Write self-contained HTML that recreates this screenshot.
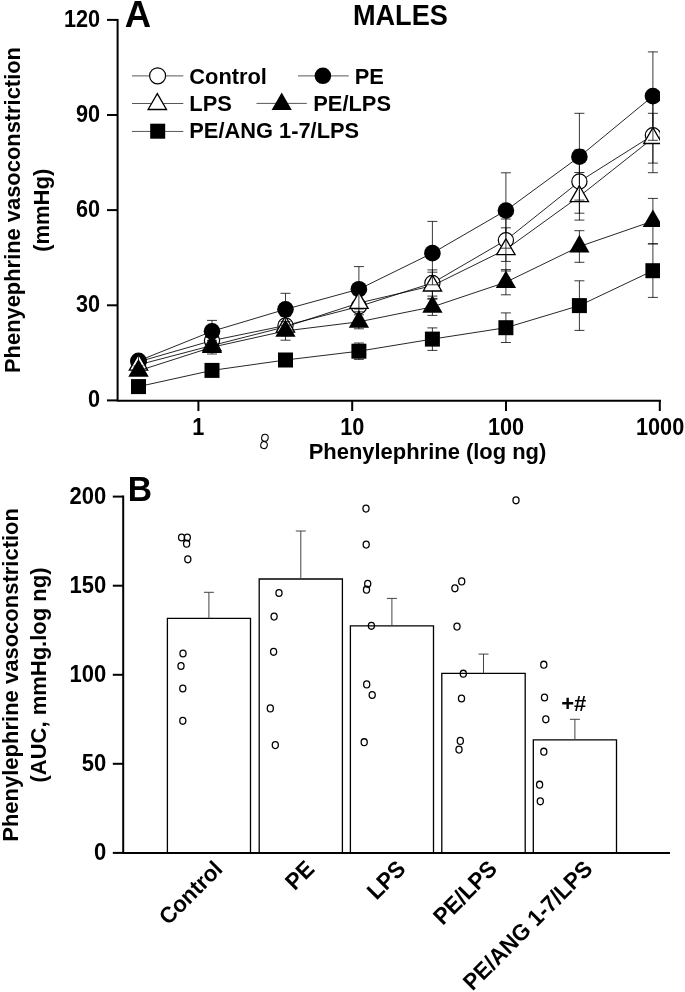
<!DOCTYPE html>
<html><head><meta charset="utf-8"><title>Figure</title>
<style>html,body{margin:0;padding:0;background:#fff}svg{display:block;will-change:transform}</style></head>
<body>
<svg width="685" height="992" viewBox="0 0 685 992">
<rect width="685" height="992" fill="#fff"/>
<defs><clipPath id="ca"><rect x="0" y="0" width="660.0" height="420"/></clipPath></defs>
<g clip-path="url(#ca)">
<polyline points="138.5,361.8 212.0,340.6 285.5,325.5 358.9,306.5 432.4,283.0 505.9,240.2 579.4,181.5 652.9,135.2" fill="none" stroke="#000" stroke-width="0.85"/>
<circle cx="138.5" cy="361.8" r="7.60" fill="#fff" stroke="#000" stroke-width="1.2"/>
<circle cx="212.0" cy="340.6" r="7.60" fill="#fff" stroke="#000" stroke-width="1.2"/>
<circle cx="285.5" cy="325.5" r="7.60" fill="#fff" stroke="#000" stroke-width="1.2"/>
<circle cx="358.9" cy="306.5" r="7.60" fill="#fff" stroke="#000" stroke-width="1.2"/>
<circle cx="432.4" cy="283.0" r="7.60" fill="#fff" stroke="#000" stroke-width="1.2"/>
<circle cx="505.9" cy="240.2" r="7.60" fill="#fff" stroke="#000" stroke-width="1.2"/>
<circle cx="579.4" cy="181.5" r="7.60" fill="#fff" stroke="#000" stroke-width="1.2"/>
<circle cx="652.9" cy="135.2" r="7.60" fill="#fff" stroke="#000" stroke-width="1.2"/>
<polyline points="138.5,360.9 212.0,331.3 285.5,309.3 358.9,289.2 432.4,253.1 505.9,210.5 579.4,156.7 652.9,96.1" fill="none" stroke="#000" stroke-width="0.85"/>
<circle cx="138.5" cy="360.9" r="8.3" fill="#000"/>
<circle cx="212.0" cy="331.3" r="8.3" fill="#000"/>
<circle cx="285.5" cy="309.3" r="8.3" fill="#000"/>
<circle cx="358.9" cy="289.2" r="8.3" fill="#000"/>
<circle cx="432.4" cy="253.1" r="8.3" fill="#000"/>
<circle cx="505.9" cy="210.5" r="8.3" fill="#000"/>
<circle cx="579.4" cy="156.7" r="8.3" fill="#000"/>
<circle cx="652.9" cy="96.1" r="8.3" fill="#000"/>
<polyline points="138.5,364.8 212.0,345.5 285.5,326.8 358.9,303.0 432.4,285.7 505.9,249.4 579.4,196.3 652.9,138.2" fill="none" stroke="#000" stroke-width="0.85"/>
<polygon points="138.5,354.2 129.3,370.1 147.7,370.1" fill="#fff" stroke="#000" stroke-width="1.3" stroke-linejoin="miter"/>
<polygon points="212.0,334.9 202.8,350.8 221.1,350.8" fill="#fff" stroke="#000" stroke-width="1.3" stroke-linejoin="miter"/>
<polygon points="285.5,316.2 276.3,332.1 294.6,332.1" fill="#fff" stroke="#000" stroke-width="1.3" stroke-linejoin="miter"/>
<polygon points="358.9,292.4 349.8,308.3 368.1,308.3" fill="#fff" stroke="#000" stroke-width="1.3" stroke-linejoin="miter"/>
<polygon points="432.4,275.1 423.3,291.0 441.6,291.0" fill="#fff" stroke="#000" stroke-width="1.3" stroke-linejoin="miter"/>
<polygon points="505.9,238.8 496.7,254.7 515.1,254.7" fill="#fff" stroke="#000" stroke-width="1.3" stroke-linejoin="miter"/>
<polygon points="579.4,185.7 570.2,201.6 588.5,201.6" fill="#fff" stroke="#000" stroke-width="1.3" stroke-linejoin="miter"/>
<polygon points="652.9,127.6 643.7,143.5 662.0,143.5" fill="#fff" stroke="#000" stroke-width="1.3" stroke-linejoin="miter"/>
<polyline points="138.5,370.8 212.0,347.2 285.5,330.9 358.9,321.8 432.4,306.9 505.9,282.2 579.4,246.5 652.9,221.1" fill="none" stroke="#000" stroke-width="0.85"/>
<polygon points="138.5,359.1 128.3,376.7 148.7,376.7" fill="#000"/>
<polygon points="212.0,335.5 201.8,353.1 222.1,353.1" fill="#000"/>
<polygon points="285.5,319.2 275.3,336.8 295.6,336.8" fill="#000"/>
<polygon points="358.9,310.1 348.8,327.7 369.1,327.7" fill="#000"/>
<polygon points="432.4,295.2 422.3,312.8 442.6,312.8" fill="#000"/>
<polygon points="505.9,270.5 495.8,288.1 516.1,288.1" fill="#000"/>
<polygon points="579.4,234.8 569.2,252.4 589.5,252.4" fill="#000"/>
<polygon points="652.9,209.4 642.7,227.0 663.0,227.0" fill="#000"/>
<polyline points="138.5,386.6 212.0,370.4 285.5,360.0 358.9,351.2 432.4,339.1 505.9,327.7 579.4,305.6 652.9,270.7" fill="none" stroke="#000" stroke-width="0.85"/>
<rect x="131.0" y="379.1" width="15.0" height="15.0" fill="#000"/>
<rect x="204.5" y="362.9" width="15.0" height="15.0" fill="#000"/>
<rect x="278.0" y="352.5" width="15.0" height="15.0" fill="#000"/>
<rect x="351.4" y="343.7" width="15.0" height="15.0" fill="#000"/>
<rect x="424.9" y="331.6" width="15.0" height="15.0" fill="#000"/>
<rect x="498.4" y="320.2" width="15.0" height="15.0" fill="#000"/>
<rect x="571.9" y="298.1" width="15.0" height="15.0" fill="#000"/>
<rect x="645.4" y="263.2" width="15.0" height="15.0" fill="#000"/>
<g stroke="#000" stroke-width="0.78" fill="none">


<line x1="285.5" y1="316.5" x2="285.5" y2="317.3"/><line x1="280.5" y1="316.5" x2="290.5" y2="316.5"/><line x1="285.5" y1="333.7" x2="285.5" y2="334.5"/><line x1="280.5" y1="334.5" x2="290.5" y2="334.5"/>

<line x1="432.4" y1="269.9" x2="432.4" y2="274.8"/><line x1="427.4" y1="269.9" x2="437.4" y2="269.9"/><line x1="432.4" y1="291.2" x2="432.4" y2="296.1"/><line x1="427.4" y1="296.1" x2="437.4" y2="296.1"/>
<line x1="505.9" y1="219.0" x2="505.9" y2="232.0"/><line x1="500.9" y1="219.0" x2="510.9" y2="219.0"/><line x1="505.9" y1="248.4" x2="505.9" y2="261.4"/><line x1="500.9" y1="261.4" x2="510.9" y2="261.4"/>
<line x1="579.4" y1="149.8" x2="579.4" y2="173.3"/><line x1="574.4" y1="149.8" x2="584.4" y2="149.8"/><line x1="579.4" y1="189.7" x2="579.4" y2="213.2"/><line x1="574.4" y1="213.2" x2="584.4" y2="213.2"/>
<line x1="652.9" y1="97.7" x2="652.9" y2="127.0"/><line x1="647.9" y1="97.7" x2="657.9" y2="97.7"/><line x1="652.9" y1="143.4" x2="652.9" y2="172.7"/><line x1="647.9" y1="172.7" x2="657.9" y2="172.7"/>
<line x1="138.5" y1="355.9" x2="138.5" y2="365.9"/><line x1="133.5" y1="355.9" x2="143.5" y2="355.9"/><line x1="133.5" y1="365.9" x2="143.5" y2="365.9"/>
<line x1="212.0" y1="320.4" x2="212.0" y2="342.2"/><line x1="207.0" y1="320.4" x2="217.0" y2="320.4"/><line x1="207.0" y1="342.2" x2="217.0" y2="342.2"/>
<line x1="285.5" y1="293.3" x2="285.5" y2="325.3"/><line x1="280.5" y1="293.3" x2="290.5" y2="293.3"/><line x1="280.5" y1="325.3" x2="290.5" y2="325.3"/>
<line x1="358.9" y1="266.6" x2="358.9" y2="311.8"/><line x1="353.9" y1="266.6" x2="363.9" y2="266.6"/><line x1="353.9" y1="311.8" x2="363.9" y2="311.8"/>
<line x1="432.4" y1="221.4" x2="432.4" y2="284.8"/><line x1="427.4" y1="221.4" x2="437.4" y2="221.4"/><line x1="427.4" y1="284.8" x2="437.4" y2="284.8"/>
<line x1="505.9" y1="172.8" x2="505.9" y2="248.2"/><line x1="500.9" y1="172.8" x2="510.9" y2="172.8"/><line x1="500.9" y1="248.2" x2="510.9" y2="248.2"/>
<line x1="579.4" y1="113.3" x2="579.4" y2="200.1"/><line x1="574.4" y1="113.3" x2="584.4" y2="113.3"/><line x1="574.4" y1="200.1" x2="584.4" y2="200.1"/>
<line x1="652.9" y1="51.9" x2="652.9" y2="140.3"/><line x1="647.9" y1="51.9" x2="657.9" y2="51.9"/><line x1="647.9" y1="140.3" x2="657.9" y2="140.3"/>

<line x1="212.0" y1="351.4" x2="212.0" y2="351.5"/><line x1="207.0" y1="351.5" x2="217.0" y2="351.5"/>
<line x1="285.5" y1="332.7" x2="285.5" y2="335.8"/><line x1="280.5" y1="335.8" x2="290.5" y2="335.8"/>
<line x1="358.9" y1="308.9" x2="358.9" y2="309.0"/><line x1="353.9" y1="309.0" x2="363.9" y2="309.0"/>
<line x1="432.4" y1="272.2" x2="432.4" y2="273.8"/><line x1="427.4" y1="272.2" x2="437.4" y2="272.2"/><line x1="432.4" y1="291.6" x2="432.4" y2="299.2"/><line x1="427.4" y1="299.2" x2="437.4" y2="299.2"/>
<line x1="505.9" y1="227.8" x2="505.9" y2="237.5"/><line x1="500.9" y1="227.8" x2="510.9" y2="227.8"/><line x1="505.9" y1="255.3" x2="505.9" y2="271.0"/><line x1="500.9" y1="271.0" x2="510.9" y2="271.0"/>
<line x1="579.4" y1="172.5" x2="579.4" y2="184.4"/><line x1="574.4" y1="172.5" x2="584.4" y2="172.5"/><line x1="579.4" y1="202.2" x2="579.4" y2="220.1"/><line x1="574.4" y1="220.1" x2="584.4" y2="220.1"/>
<line x1="652.9" y1="113.3" x2="652.9" y2="126.3"/><line x1="647.9" y1="113.3" x2="657.9" y2="113.3"/><line x1="652.9" y1="144.1" x2="652.9" y2="163.1"/><line x1="647.9" y1="163.1" x2="657.9" y2="163.1"/>
<line x1="138.5" y1="367.8" x2="138.5" y2="373.8"/><line x1="133.5" y1="367.8" x2="143.5" y2="367.8"/><line x1="133.5" y1="373.8" x2="143.5" y2="373.8"/>
<line x1="212.0" y1="340.4" x2="212.0" y2="354.0"/><line x1="207.0" y1="340.4" x2="217.0" y2="340.4"/><line x1="207.0" y1="354.0" x2="217.0" y2="354.0"/>
<line x1="285.5" y1="321.6" x2="285.5" y2="340.2"/><line x1="280.5" y1="321.6" x2="290.5" y2="321.6"/><line x1="280.5" y1="340.2" x2="290.5" y2="340.2"/>
<line x1="358.9" y1="314.8" x2="358.9" y2="328.8"/><line x1="353.9" y1="314.8" x2="363.9" y2="314.8"/><line x1="353.9" y1="328.8" x2="363.9" y2="328.8"/>
<line x1="432.4" y1="298.4" x2="432.4" y2="315.4"/><line x1="427.4" y1="298.4" x2="437.4" y2="298.4"/><line x1="427.4" y1="315.4" x2="437.4" y2="315.4"/>
<line x1="505.9" y1="269.6" x2="505.9" y2="294.8"/><line x1="500.9" y1="269.6" x2="510.9" y2="269.6"/><line x1="500.9" y1="294.8" x2="510.9" y2="294.8"/>
<line x1="579.4" y1="230.7" x2="579.4" y2="262.3"/><line x1="574.4" y1="230.7" x2="584.4" y2="230.7"/><line x1="574.4" y1="262.3" x2="584.4" y2="262.3"/>
<line x1="652.9" y1="198.4" x2="652.9" y2="243.8"/><line x1="647.9" y1="198.4" x2="657.9" y2="198.4"/><line x1="647.9" y1="243.8" x2="657.9" y2="243.8"/>
<line x1="138.5" y1="384.6" x2="138.5" y2="388.6"/><line x1="133.5" y1="384.6" x2="143.5" y2="384.6"/><line x1="133.5" y1="388.6" x2="143.5" y2="388.6"/>
<line x1="212.0" y1="367.4" x2="212.0" y2="373.4"/><line x1="207.0" y1="367.4" x2="217.0" y2="367.4"/><line x1="207.0" y1="373.4" x2="217.0" y2="373.4"/>
<line x1="285.5" y1="356.5" x2="285.5" y2="363.5"/><line x1="280.5" y1="356.5" x2="290.5" y2="356.5"/><line x1="280.5" y1="363.5" x2="290.5" y2="363.5"/>
<line x1="358.9" y1="343.0" x2="358.9" y2="359.4"/><line x1="353.9" y1="343.0" x2="363.9" y2="343.0"/><line x1="353.9" y1="359.4" x2="363.9" y2="359.4"/>
<line x1="432.4" y1="327.9" x2="432.4" y2="350.4"/><line x1="427.4" y1="327.9" x2="437.4" y2="327.9"/><line x1="427.4" y1="350.4" x2="437.4" y2="350.4"/>
<line x1="505.9" y1="312.9" x2="505.9" y2="342.5"/><line x1="500.9" y1="312.9" x2="510.9" y2="312.9"/><line x1="500.9" y1="342.5" x2="510.9" y2="342.5"/>
<line x1="579.4" y1="280.8" x2="579.4" y2="330.4"/><line x1="574.4" y1="280.8" x2="584.4" y2="280.8"/><line x1="574.4" y1="330.4" x2="584.4" y2="330.4"/>
<line x1="652.9" y1="243.9" x2="652.9" y2="297.4"/><line x1="647.9" y1="243.9" x2="657.9" y2="243.9"/><line x1="647.9" y1="297.4" x2="657.9" y2="297.4"/>
</g>
</g>
<g stroke="#000" stroke-width="2" fill="none">
<line x1="117.6" y1="18.9" x2="117.6" y2="401.4"/>
<line x1="117.6" y1="400.79999999999995" x2="661.0" y2="400.79999999999995"/>
<line x1="107.0" y1="400.4" x2="117.6" y2="400.4"/>
<line x1="107.0" y1="305.3" x2="117.6" y2="305.3"/>
<line x1="107.0" y1="210.1" x2="117.6" y2="210.1"/>
<line x1="107.0" y1="115.0" x2="117.6" y2="115.0"/>
<line x1="107.0" y1="19.9" x2="117.6" y2="19.9"/>
<line x1="198.4" y1="400.4" x2="198.4" y2="411.0"/>
<line x1="352.2" y1="400.4" x2="352.2" y2="411.0"/>
<line x1="506.0" y1="400.4" x2="506.0" y2="411.0"/>
<line x1="659.8" y1="400.4" x2="659.8" y2="411.0"/>
</g>
<text transform="translate(100.10,407.30) scale(1,1.085)" font-family="Liberation Sans, sans-serif" font-weight="bold" font-size="21.7" text-anchor="end">0</text>
<text transform="translate(100.10,312.17) scale(1,1.085)" font-family="Liberation Sans, sans-serif" font-weight="bold" font-size="21.7" text-anchor="end">30</text>
<text transform="translate(100.10,217.04) scale(1,1.085)" font-family="Liberation Sans, sans-serif" font-weight="bold" font-size="21.7" text-anchor="end">60</text>
<text transform="translate(100.10,121.91) scale(1,1.085)" font-family="Liberation Sans, sans-serif" font-weight="bold" font-size="21.7" text-anchor="end">90</text>
<text transform="translate(100.10,26.78) scale(1,1.085)" font-family="Liberation Sans, sans-serif" font-weight="bold" font-size="21.7" text-anchor="end">120</text>
<text transform="translate(198.40,434.50) scale(1,1.085)" font-family="Liberation Sans, sans-serif" font-weight="bold" font-size="21.7" text-anchor="middle">1</text>
<text transform="translate(352.20,434.50) scale(1,1.085)" font-family="Liberation Sans, sans-serif" font-weight="bold" font-size="21.7" text-anchor="middle">10</text>
<text transform="translate(506.00,434.50) scale(1,1.085)" font-family="Liberation Sans, sans-serif" font-weight="bold" font-size="21.7" text-anchor="middle">100</text>
<text transform="translate(660.10,434.50) scale(1,1.085)" font-family="Liberation Sans, sans-serif" font-weight="bold" font-size="21.7" text-anchor="middle">1000</text>
<text transform="translate(427.50,458.70) scale(1,1.03)" font-family="Liberation Sans, sans-serif" font-weight="bold" font-size="21.95" text-anchor="middle">Phenylephrine (log ng)</text>
<text transform="translate(20.40,210.00) rotate(-90) scale(1,1.03)" font-family="Liberation Sans, sans-serif" font-weight="bold" font-size="21.9" text-anchor="middle">Phenyephrine vasoconstriction</text>
<text transform="translate(48.50,210.30) rotate(-90) scale(1,1.03)" font-family="Liberation Sans, sans-serif" font-weight="bold" font-size="22" text-anchor="middle">(mmHg)</text>
<text transform="translate(124.70,26.60) scale(1,1.02)" font-family="Liberation Sans, sans-serif" font-weight="bold" font-size="36.5" text-anchor="start">A</text>
<text transform="translate(400.40,24.80) scale(1,1.08)" font-family="Liberation Sans, sans-serif" font-weight="bold" font-size="27.15" text-anchor="middle">MALES</text>
<line x1="132" y1="75.9" x2="183.3" y2="75.9" stroke="#444" stroke-width="0.9"/>
<circle cx="157.6" cy="75.8" r="8.00" fill="#fff" stroke="#000" stroke-width="1.2"/>
<text transform="translate(189.30,83.60) scale(1,1.03)" font-family="Liberation Sans, sans-serif" font-weight="bold" font-size="21.85" text-anchor="start">Control</text>
<line x1="298" y1="75.9" x2="348.8" y2="75.9" stroke="#444" stroke-width="0.9"/>
<circle cx="322.9" cy="75.8" r="8.3" fill="#000"/>
<text transform="translate(354.70,83.60) scale(1,1.045)" font-family="Liberation Sans, sans-serif" font-weight="bold" font-size="21.85" text-anchor="start">PE</text>
<line x1="132" y1="103.5" x2="183.3" y2="103.5" stroke="#444" stroke-width="0.9"/>
<polygon points="157.3,93.6 148.1,109.5 166.5,109.5" fill="#fff" stroke="#000" stroke-width="1.3" stroke-linejoin="miter"/>
<text transform="translate(189.30,111.00) scale(1,1.045)" font-family="Liberation Sans, sans-serif" font-weight="bold" font-size="21.85" text-anchor="start">LPS</text>
<line x1="256.5" y1="103.4" x2="306.8" y2="103.4" stroke="#444" stroke-width="0.9"/>
<polygon points="281.7,92.5 271.6,110.1 291.8,110.1" fill="#000"/>
<text transform="translate(313.30,111.00) scale(1,1.045)" font-family="Liberation Sans, sans-serif" font-weight="bold" font-size="21.85" text-anchor="start">PE/LPS</text>
<line x1="132" y1="131.45" x2="183.3" y2="131.45" stroke="#444" stroke-width="0.9"/>
<rect x="150.2" y="123.7" width="15.0" height="15.0" fill="#000"/>
<text transform="translate(189.30,138.40) scale(1,1.045)" font-family="Liberation Sans, sans-serif" font-weight="bold" font-size="21.85" text-anchor="start">PE/ANG 1-7/LPS</text>
<ellipse cx="264.9" cy="437.8" rx="3.3" ry="3.5" fill="none" stroke="#000" stroke-width="1.05" transform="rotate(10 264.9 437.8)"/>
<ellipse cx="264.0" cy="445.1" rx="3.3" ry="3.5" fill="none" stroke="#000" stroke-width="1.05" transform="rotate(10 264 445.1)"/>
<g stroke="#000" stroke-width="1.3" fill="none">
<path d="M167.4,852.9 V618.3 H250.5 V852.9"/>
<path d="M259.2,852.9 V579.0 H342.4 V852.9"/>
<path d="M350.4,852.9 V625.8 H433.5 V852.9"/>
<path d="M441.8,852.9 V673.3 H525.2 V852.9"/>
<path d="M533.3,852.9 V739.9 H616.5 V852.9"/>
</g>
<g stroke="#444" stroke-width="1.0" fill="none">
<line x1="208.9" y1="618.3" x2="208.9" y2="592.3"/><line x1="203.9" y1="592.3" x2="213.9" y2="592.3"/>
<line x1="300.8" y1="579.0" x2="300.8" y2="531.0"/><line x1="295.8" y1="531.0" x2="305.8" y2="531.0"/>
<line x1="391.9" y1="625.8" x2="391.9" y2="598.4"/><line x1="386.9" y1="598.4" x2="396.9" y2="598.4"/>
<line x1="483.5" y1="673.3" x2="483.5" y2="654.1"/><line x1="478.5" y1="654.1" x2="488.5" y2="654.1"/>
<line x1="574.9" y1="739.9" x2="574.9" y2="719.3"/><line x1="569.9" y1="719.3" x2="579.9" y2="719.3"/>
</g>
<g stroke="#000" stroke-width="1.3" fill="none">
<ellipse cx="181.6" cy="537.5" rx="3.05" ry="3.45"/>
<ellipse cx="187.3" cy="537.5" rx="3.05" ry="3.45"/>
<ellipse cx="186.6" cy="543.7" rx="3.05" ry="3.45"/>
<ellipse cx="187.8" cy="559.3" rx="3.05" ry="3.45"/>
<ellipse cx="183" cy="653.5" rx="3.05" ry="3.45"/>
<ellipse cx="181" cy="666" rx="3.05" ry="3.45"/>
<ellipse cx="182.8" cy="688.5" rx="3.05" ry="3.45"/>
<ellipse cx="182.8" cy="720.8" rx="3.05" ry="3.45"/>
<ellipse cx="279" cy="593" rx="3.05" ry="3.45"/>
<ellipse cx="274.1" cy="616.6" rx="3.05" ry="3.45"/>
<ellipse cx="273.6" cy="651.8" rx="3.05" ry="3.45"/>
<ellipse cx="270.3" cy="708.4" rx="3.05" ry="3.45"/>
<ellipse cx="275.3" cy="745.1" rx="3.05" ry="3.45"/>
<ellipse cx="366" cy="508.6" rx="3.05" ry="3.45"/>
<ellipse cx="366.2" cy="544.6" rx="3.05" ry="3.45"/>
<ellipse cx="367.7" cy="583.8" rx="3.05" ry="3.45"/>
<ellipse cx="366.5" cy="589.7" rx="3.05" ry="3.45"/>
<ellipse cx="371.4" cy="625.8" rx="3.05" ry="3.45"/>
<ellipse cx="366.7" cy="684.4" rx="3.05" ry="3.45"/>
<ellipse cx="372.2" cy="695" rx="3.05" ry="3.45"/>
<ellipse cx="364.2" cy="742.2" rx="3.05" ry="3.45"/>
<ellipse cx="516" cy="500.3" rx="3.05" ry="3.45"/>
<ellipse cx="461.7" cy="581.4" rx="3.05" ry="3.45"/>
<ellipse cx="454.9" cy="588.3" rx="3.05" ry="3.45"/>
<ellipse cx="457" cy="626.6" rx="3.05" ry="3.45"/>
<ellipse cx="463.3" cy="673.7" rx="3.05" ry="3.45"/>
<ellipse cx="461.5" cy="698.5" rx="3.05" ry="3.45"/>
<ellipse cx="460.3" cy="740.9" rx="3.05" ry="3.45"/>
<ellipse cx="459" cy="749.6" rx="3.05" ry="3.45"/>
<ellipse cx="543.8" cy="664.7" rx="3.05" ry="3.45"/>
<ellipse cx="544.5" cy="697.5" rx="3.05" ry="3.45"/>
<ellipse cx="545.8" cy="719.3" rx="3.05" ry="3.45"/>
<ellipse cx="543.8" cy="751.7" rx="3.05" ry="3.45"/>
<ellipse cx="539.6" cy="784.7" rx="3.05" ry="3.45"/>
<ellipse cx="540.3" cy="801.3" rx="3.05" ry="3.45"/>
</g>
<g stroke="#000" stroke-width="2" fill="none">
<line x1="123.2" y1="495.6" x2="123.2" y2="853.9"/>
<line x1="122.2" y1="852.9" x2="670" y2="852.9"/>
<line x1="112.8" y1="852.9" x2="123.2" y2="852.9"/>
<line x1="112.8" y1="763.8" x2="123.2" y2="763.8"/>
<line x1="112.8" y1="674.8" x2="123.2" y2="674.8"/>
<line x1="112.8" y1="585.7" x2="123.2" y2="585.7"/>
<line x1="112.8" y1="496.6" x2="123.2" y2="496.6"/>
</g>
<text transform="translate(106.20,859.80) scale(1,1.09)" font-family="Liberation Sans, sans-serif" font-weight="bold" font-size="22" text-anchor="end">0</text>
<text transform="translate(106.20,770.73) scale(1,1.09)" font-family="Liberation Sans, sans-serif" font-weight="bold" font-size="22" text-anchor="end">50</text>
<text transform="translate(106.20,681.65) scale(1,1.09)" font-family="Liberation Sans, sans-serif" font-weight="bold" font-size="22" text-anchor="end">100</text>
<text transform="translate(106.20,592.57) scale(1,1.09)" font-family="Liberation Sans, sans-serif" font-weight="bold" font-size="22" text-anchor="end">150</text>
<text transform="translate(106.20,503.50) scale(1,1.09)" font-family="Liberation Sans, sans-serif" font-weight="bold" font-size="22" text-anchor="end">200</text>
<text transform="translate(127.80,501.00) scale(1,1.06)" font-family="Liberation Sans, sans-serif" font-weight="bold" font-size="33.6" text-anchor="start">B</text>
<text transform="translate(561.20,710.80) scale(1,1.045)" font-family="Liberation Sans, sans-serif" font-weight="bold" font-size="22" text-anchor="start">+#</text>
<text transform="translate(18.20,674.90) rotate(-90) scale(1,1.02)" font-family="Liberation Sans, sans-serif" font-weight="bold" font-size="22.0" text-anchor="middle">Phenylephrine vasoconstriction</text>
<text transform="translate(45.90,675.00) rotate(-90) scale(1,1.02)" font-family="Liberation Sans, sans-serif" font-weight="bold" font-size="22.0" text-anchor="middle">(AUC, mmHg.log ng)</text>
<text transform="translate(223.95,870.30) rotate(-45) scale(1,1.02)" font-family="Liberation Sans, sans-serif" font-weight="bold" font-size="22.2" text-anchor="end">Control</text>
<text transform="translate(315.80,870.30) rotate(-45) scale(1,1.045)" font-family="Liberation Sans, sans-serif" font-weight="bold" font-size="22.2" text-anchor="end">PE</text>
<text transform="translate(406.95,870.30) rotate(-45) scale(1,1.045)" font-family="Liberation Sans, sans-serif" font-weight="bold" font-size="22.2" text-anchor="end">LPS</text>
<text transform="translate(498.50,870.30) rotate(-45) scale(1,1.045)" font-family="Liberation Sans, sans-serif" font-weight="bold" font-size="22.2" text-anchor="end">PE/LPS</text>
<text transform="translate(593.90,870.30) rotate(-45) scale(1,1.045)" font-family="Liberation Sans, sans-serif" font-weight="bold" font-size="22.05" text-anchor="end">PE/ANG 1-7/LPS</text>
</svg>
</body></html>
